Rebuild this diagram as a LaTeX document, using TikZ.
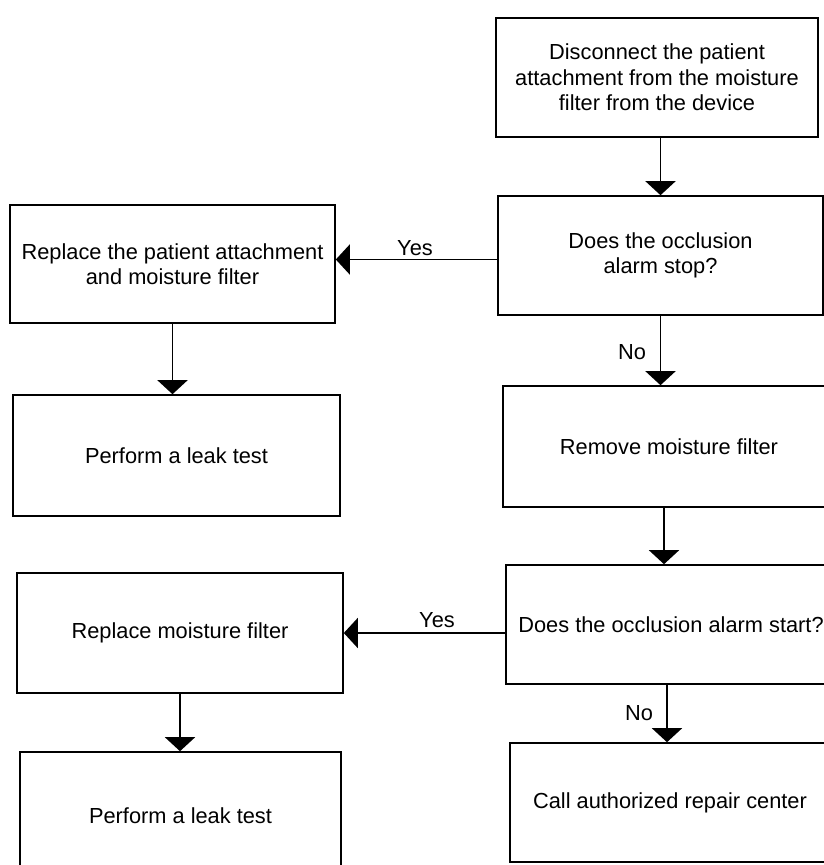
\documentclass[tikz,border=0pt]{standalone}
\usepackage{fontspec}
\setmainfont{Liberation Sans}
\usetikzlibrary{arrows.meta}
\begin{document}
\begin{tikzpicture}[x=1bp,y=-1bp,
  box/.style={draw, line width=1.6bp, inner sep=0pt, align=center,
    font=\fontsize{21.8bp}{25.5bp}\selectfont},
  flow/.style={line width=1.6bp, -{Triangle[width=30bp,length=14bp]}},
  tag/.style={inner sep=0pt, font=\fontsize{21.8bp}{25.5bp}\selectfont}]
\fill[white] (0,0) rectangle (824,865);
\useasboundingbox (0,0) rectangle (824,865);
\clip (0,0) rectangle (824,865);

% right column
\node[box, minimum width=322bp, minimum height=119bp] (start) at (657,77.5)
  {Disconnect the patient\\attachment from the moisture\\filter from the device};
\node[box, minimum width=325bp, minimum height=119bp] (stop) at (660.5,255.5)
  {Does the occlusion\\alarm stop?};
\node[box, minimum width=332bp, minimum height=121bp] (remove) at (669,446.5)
  {Remove moisture filter};
\node[box, minimum width=330bp, minimum height=119bp] (alarm) at (671,624.5)
  {Does the occlusion alarm start?};
\node[box, minimum width=320bp, minimum height=119bp] (repair) at (670,802.5)
  {Call authorized repair center};

% left column
\node[box, minimum width=325bp, minimum height=118bp] (replaceA) at (172.5,264)
  {Replace the patient attachment\\and moisture filter};
\node[box, minimum width=327bp, minimum height=121bp] (leakA) at (176.5,455.5)
  {Perform a leak test};
\node[box, minimum width=326bp, minimum height=120bp] (replaceB) at (180,633)
  {Replace moisture filter};
\node[box, minimum width=321bp, minimum height=128bp] (leakB) at (180.5,816)
  {Perform a leak test};

% connectors
\draw[flow] (start.south -| stop.north) -- (stop.north);
\draw[flow] (stop.south) -- (stop.south |- remove.north);
\draw[flow] ([xshift=-5bp]remove.south) -- ([xshift=-5bp]remove.south |- alarm.north);
\draw[flow] ([xshift=-4bp]alarm.south) -- ([xshift=-4bp]alarm.south |- repair.north);
\draw[flow] ([yshift=-4bp]stop.west) -- ([yshift=-4bp]stop.west -| replaceA.east);
\draw[flow] (replaceB.east -| alarm.west) -- (replaceB.east);
\draw[flow] (replaceA.south) -- (replaceA.south |- leakA.north);
\draw[flow] (replaceB.south) -- (replaceB.south |- leakB.north);

% branch labels
\node[tag] (yesA) at (415,248) {Yes};
\node[tag] (yesB) at (437,620) {Yes};
\node[tag] (noA) at (632,352) {No};
\node[tag] (noB) at (639,713) {No};
\end{tikzpicture}
\end{document}
